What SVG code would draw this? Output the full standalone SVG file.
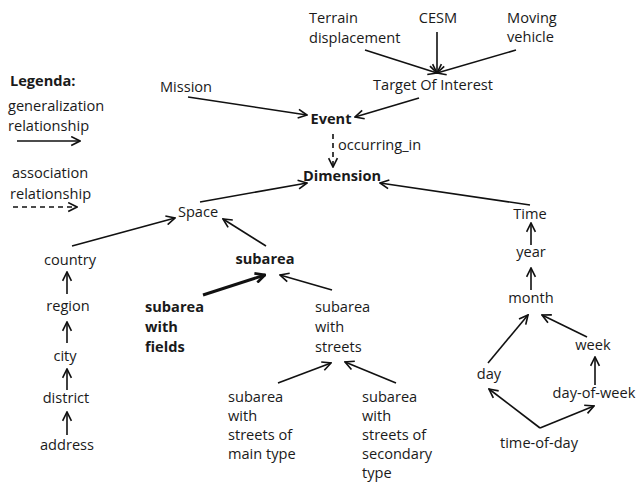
<svg xmlns="http://www.w3.org/2000/svg" width="639" height="485" viewBox="0 0 639 485">
<style>
text{font-family:"Open Sans","Noto Sans","Liberation Sans",sans-serif;font-size:14.6px;fill:#1a1a1a}
.b{font-weight:bold}
.m{text-anchor:middle}
.c line{stroke:#111;stroke-width:1.6;fill:none}
.c line.a{marker-end:url(#ah)}
.c line.d{stroke-dasharray:5 4}
.c line.t{stroke-width:3;marker-end:url(#ahb)}
</style>
<defs>
<marker id="ah" viewBox="0 0 10 10" refX="9" refY="5" markerWidth="11" markerHeight="11" markerUnits="userSpaceOnUse" orient="auto">
<path d="M1,1 L9,5 L1,9" fill="none" stroke="#111" stroke-width="1.5"/>
</marker>
<marker id="ahb" viewBox="0 0 10 10" refX="9" refY="5" markerWidth="12" markerHeight="12" markerUnits="userSpaceOnUse" orient="auto">
<path d="M1,1 L9,5 L1,9" fill="none" stroke="#111" stroke-width="2.2"/>
</marker>
</defs>
<rect width="639" height="485" fill="#fff"/>
<g id="legend">
<text class="b" x="10" y="86">Legenda:</text>
<text x="8" y="111">generalization</text>
<text x="8" y="131">relationship</text>
<text x="12" y="178">association</text>
<text x="10" y="199">relationship</text>
</g>
<g class="c" id="connectors">
<line class="a" x1="17" y1="141" x2="80" y2="141"/>
<line class="a d" x1="13" y1="207" x2="77" y2="207"/>
<line class="a" x1="365" y1="50" x2="437" y2="73"/>
<line class="a" x1="437" y1="32" x2="437" y2="73"/>
<line class="a" x1="516" y1="50" x2="437" y2="73"/>
<line class="a" x1="188" y1="97" x2="307" y2="115"/>
<line class="a" x1="419" y1="98" x2="355" y2="117"/>
<line class="a d" x1="333" y1="134" x2="333" y2="167"/>
<line class="a" x1="200" y1="202" x2="307" y2="183"/>
<line class="a" x1="530" y1="205" x2="380" y2="183"/>
<line class="a" x1="72" y1="246" x2="175" y2="218"/>
<line class="a" x1="266" y1="246" x2="223" y2="219"/>
<line class="t" x1="203" y1="295" x2="265" y2="275"/>
<line class="a" x1="332" y1="290" x2="280" y2="275"/>
<line class="a" x1="278" y1="383" x2="331" y2="363"/>
<line class="a" x1="396" y1="383" x2="345" y2="362"/>
<line class="a" x1="67" y1="294" x2="67" y2="272"/>
<line class="a" x1="67" y1="343" x2="67" y2="322"/>
<line class="a" x1="67" y1="390" x2="67" y2="369"/>
<line class="a" x1="67" y1="435" x2="67" y2="412"/>
<line class="a" x1="531" y1="245" x2="531" y2="223"/>
<line class="a" x1="531" y1="290" x2="531" y2="268"/>
<line class="a" x1="488" y1="363" x2="528" y2="315"/>
<line class="a" x1="587" y1="337" x2="542" y2="315"/>
<line class="a" x1="595" y1="385" x2="595" y2="357"/>
<line class="a" x1="540" y1="428" x2="489" y2="389"/>
<line class="a" x1="540" y1="428" x2="594" y2="406"/>
</g>
<g id="terrain"><text x="309" y="23">Terrain</text><text x="309" y="43">displacement</text></g>
<g id="cesm"><text class="m" x="438" y="23">CESM</text></g>
<g id="vehicle"><text x="507" y="23">Moving</text><text x="507" y="42">vehicle</text></g>
<g id="toi"><text class="m" x="433" y="90">Target Of Interest</text></g>
<g id="mission"><text class="m" x="186" y="92">Mission</text></g>
<g id="event"><text class="b m" x="331" y="124">Event</text></g>
<g id="occurring"><text x="338" y="150">occurring_in</text></g>
<g id="dimension"><text class="b m" x="342" y="181">Dimension</text></g>
<g id="space"><text class="m" x="198" y="217">Space</text></g>
<g id="time"><text class="m" x="530" y="219">Time</text></g>
<g id="country"><text class="m" x="70" y="265">country</text></g>
<g id="region"><text class="m" x="68" y="311">region</text></g>
<g id="city"><text class="m" x="65" y="361">city</text></g>
<g id="district"><text class="m" x="66" y="403">district</text></g>
<g id="address"><text class="m" x="67" y="450">address</text></g>
<g id="subarea"><text class="b m" x="265" y="264">subarea</text></g>
<g id="fields"><text class="b" x="145" y="312">subarea</text><text class="b" x="145" y="332">with</text><text class="b" x="145" y="352">fields</text></g>
<g id="streets"><text x="315" y="312">subarea</text><text x="315" y="332">with</text><text x="315" y="352">streets</text></g>
<g id="maintype"><text x="228" y="402">subarea</text><text x="228" y="421">with</text><text x="228" y="440">streets of</text><text x="228" y="459">main type</text></g>
<g id="secondary"><text x="362" y="402">subarea</text><text x="362" y="421">with</text><text x="362" y="440">streets of</text><text x="362" y="459">secondary</text><text x="362" y="478">type</text></g>
<g id="year"><text class="m" x="531" y="257">year</text></g>
<g id="month"><text class="m" x="531" y="303">month</text></g>
<g id="week"><text class="m" x="593" y="350">week</text></g>
<g id="day"><text class="m" x="489" y="379">day</text></g>
<g id="dayofweek"><text class="m" x="594" y="398">day-of-week</text></g>
<g id="timeofday"><text class="m" x="539" y="448">time-of-day</text></g>
</svg>
